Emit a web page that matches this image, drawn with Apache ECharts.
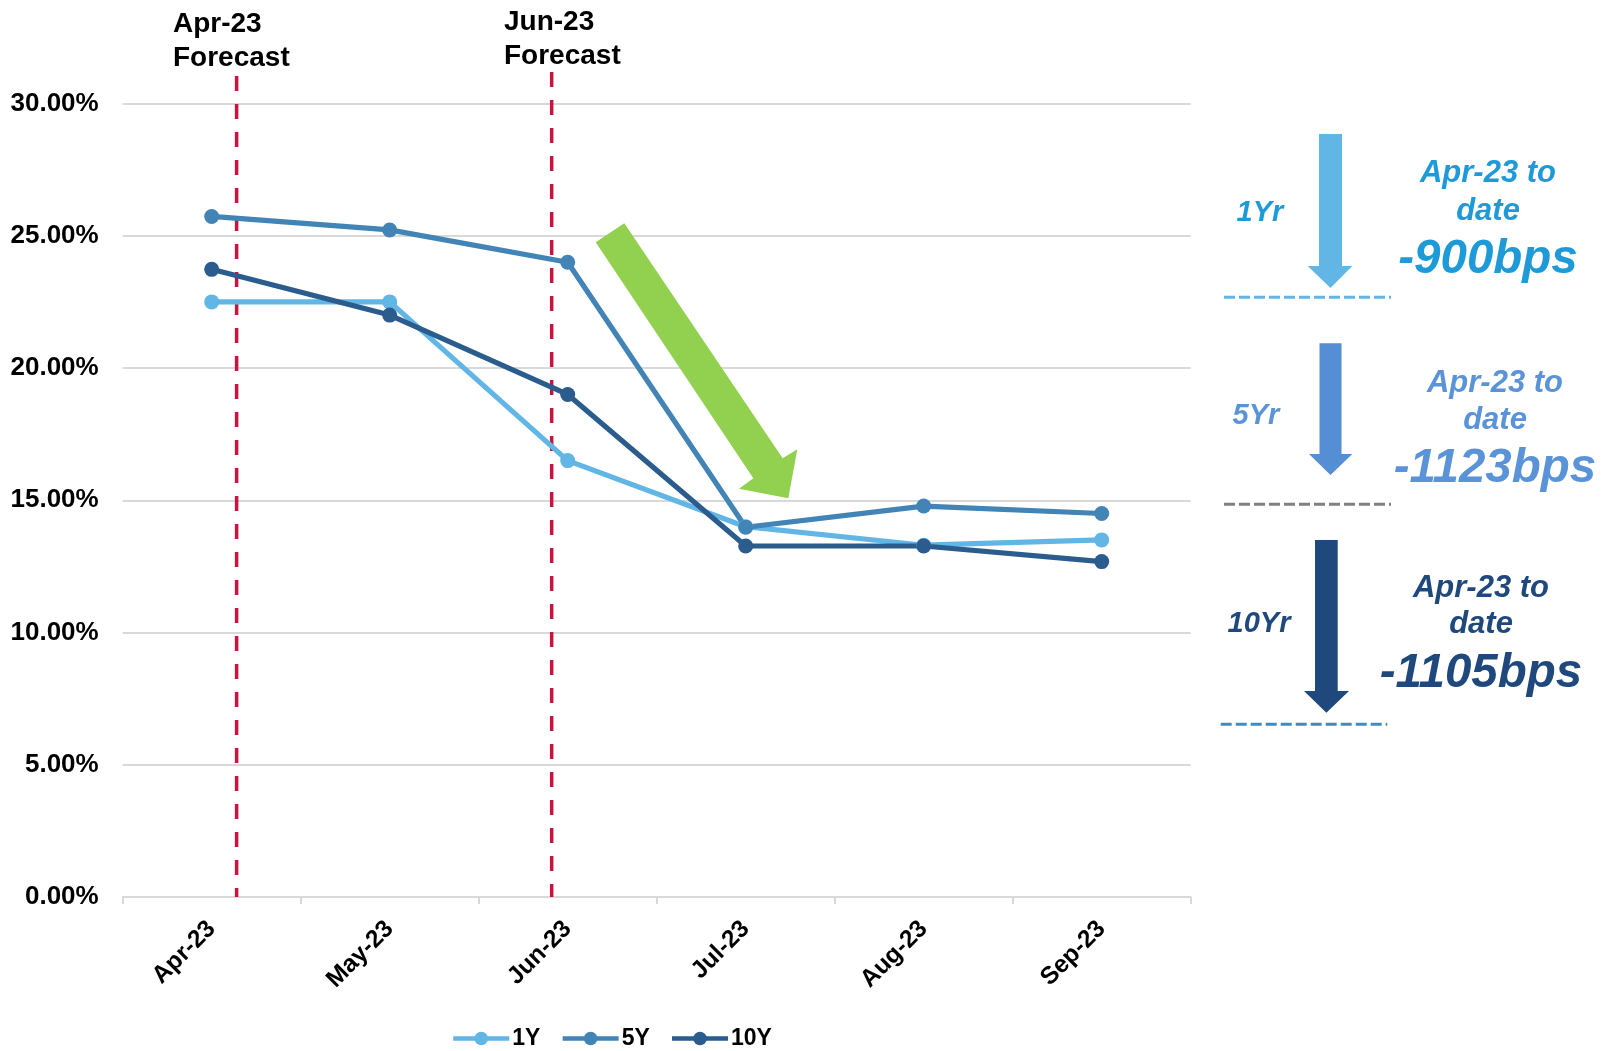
<!DOCTYPE html>
<html>
<head>
<meta charset="utf-8">
<title>Yield curve moves</title>
<script src="https://cdn.jsdelivr.net/npm/echarts@6/dist/echarts.min.js"></script>
<style>
  html, body { margin: 0; padding: 0; background: #ffffff; }
  #chart { width: 1601px; height: 1051px; }
</style>
</head>
<body>
<div id="chart"></div>
<script>
// Monthly yields (%) by tenor
const categories = ['Apr-23', 'May-23', 'Jun-23', 'Jul-23', 'Aug-23', 'Sep-23'];
const yield1Y = [22.5, 22.5, 16.5, 14.0, 13.3, 13.5];
const yield5Y = [25.73, 25.22, 24.0, 13.98, 14.78, 14.5];
const yield10Y = [23.73, 22.0, 19.0, 13.27, 13.27, 12.68];
const seriesNames = ['1Y', '5Y', '10Y'];
const tenorLabels = ['1Yr', '5Yr', '10Yr'];
const forecastLabels = ['Apr-23\nForecast', 'Jun-23\nForecast'];

const FONT = '"Liberation Sans", Arial, Helvetica, sans-serif';
const colors = ['#62b6e6', '#4184b5', '#2a5c8d'];

// change since the first month in basis points
function bpsChange(arr) {
  return Math.round((arr[arr.length - 1] - arr[0]) * 100);
}
const changes = [yield1Y, yield5Y, yield10Y].map(bpsChange);

const chart = echarts.init(document.getElementById('chart'), null, { renderer: 'canvas' });

function lineSeries(name, data, color) {
  return {
    name: name,
    type: 'line',
    data: data,
    symbol: 'circle',
    symbolSize: 15,
    lineStyle: { color: color, width: 5.2 },
    itemStyle: { color: color },
    emphasis: { disabled: true },
    animation: false
  };
}

chart.setOption({
  animation: false,
  grid: { left: 122.7, right: 410.3, top: 103.5, bottom: 154, containLabel: false },
  legend: {
    data: seriesNames,
    left: 446,
    top: 1022,
    itemWidth: 56,
    itemHeight: 17,
    itemGap: 20,
    lineStyle: { width: 4.5 },
    textStyle: { fontFamily: FONT, fontWeight: 'bold', fontSize: 23, color: '#000', padding: [0, 0, 0, -2] }
  },
  xAxis: {
    type: 'category',
    data: categories,
    boundaryGap: true,
    axisLine: { lineStyle: { color: '#d9d9d9', width: 2 } },
    axisTick: { show: true, length: 7, lineStyle: { color: '#d9d9d9', width: 2 } },
    axisLabel: {
      rotate: 45,
      margin: 28,
      fontFamily: FONT,
      fontWeight: 'bold',
      fontSize: 24.5,
      color: '#000'
    }
  },
  yAxis: {
    type: 'value',
    min: 0,
    max: 30,
    interval: 5,
    axisLine: { show: false },
    axisTick: { show: false },
    splitLine: { lineStyle: { color: '#d9d9d9', width: 2 } },
    axisLabel: {
      margin: 24,
      fontFamily: FONT,
      fontWeight: 'bold',
      fontSize: 26,
      color: '#000',
      formatter: v => v.toFixed(2) + '%'
    }
  },
  series: [
    lineSeries(seriesNames[0], yield1Y, colors[0]),
    lineSeries(seriesNames[1], yield5Y, colors[1]),
    lineSeries(seriesNames[2], yield10Y, colors[2])
  ]
});

// ----- annotations -----
const xApr = chart.convertToPixel({ xAxisIndex: 0 }, 0);
const band = chart.convertToPixel({ xAxisIndex: 0 }, 1) - xApr;
const yBase = chart.convertToPixel({ yAxisIndex: 0 }, 0);

// forecast markers sit slightly off the month centres
const forecastX = [xApr + 0.14 * band, xApr + 1.91 * band];
const forecastTop = [76, 72];
const forecastTextY = [7, 5];

const graphics = [];

forecastX.forEach((x, i) => {
  graphics.push({
    type: 'line',
    z: 1,
    shape: { x1: x, y1: forecastTop[i], x2: x, y2: yBase },
    style: { stroke: '#c8143f', lineWidth: 3.5, lineDash: [15, 13] },
    silent: true
  });
  graphics.push({
    type: 'text',
    z: 10,
    x: [173, 504][i],
    y: forecastTextY[i],
    style: {
      text: forecastLabels[i],
      fontFamily: FONT,
      fontWeight: 'bold',
      fontSize: 28,
      lineHeight: 34,
      fill: '#000',
      align: 'left',
      verticalAlign: 'top'
    },
    silent: true
  });
});

// big green trend arrow
graphics.push({
  type: 'polygon',
  z: 5,
  shape: {
    points: [
      [595.7, 242.3], [624.3, 223.3], [782.7, 458.3], [797.3, 449.3],
      [788.3, 498.3], [739.0, 488.7], [753.3, 478.3]
    ]
  },
  style: { fill: '#92d050' },
  silent: true
});

// side panel: per-tenor arrows, dividers and totals
const panel = [
  {
    color: '#62b6e6', textColor: '#1f9ad8', dashColor: '#62b6e6',
    shaft: [1319, 1342, 134, 266], head: [1307.7, 1352.3, 288],
    dash: [1224, 1391, 297.3],
    tenorPos: [1260, 213], cx: 1488, lines: [173, 211, 260]
  },
  {
    color: '#558ed5', textColor: '#5a93d8', dashColor: '#808080',
    shaft: [1319.5, 1341.5, 343.3, 454], head: [1309, 1352.3, 475],
    dash: [1224, 1391, 504.3],
    tenorPos: [1256, 416], cx: 1495, lines: [383, 420, 469]
  },
  {
    color: '#1f497d', textColor: '#1f497d', dashColor: '#3f8cc4',
    shaft: [1315, 1337.7, 540, 691], head: [1304, 1349, 712.7],
    dash: [1220.7, 1387.3, 724.3],
    tenorPos: [1259, 624], cx: 1481, lines: [588, 624, 674]
  }
];

function italic(text, x, y, size, color) {
  return {
    type: 'text',
    z: 10,
    x: x,
    y: y,
    style: {
      text: text,
      fontFamily: FONT,
      fontWeight: 'bold',
      fontStyle: 'italic',
      fontSize: size,
      fill: color,
      align: 'center',
      verticalAlign: 'middle'
    },
    silent: true
  };
}

panel.forEach((p, i) => {
  const [sx1, sx2, sy1, sy2] = p.shaft;
  const [hx1, hx2, tipY] = p.head;
  const mid = (sx1 + sx2) / 2;
  graphics.push({
    type: 'polygon',
    z: 5,
    shape: {
      points: [[sx1, sy1], [sx2, sy1], [sx2, sy2], [hx2, sy2], [mid, tipY], [hx1, sy2], [sx1, sy2]]
    },
    style: { fill: p.color },
    silent: true
  });
  graphics.push({
    type: 'line',
    z: 5,
    shape: { x1: p.dash[0], y1: p.dash[2], x2: p.dash[1], y2: p.dash[2] },
    style: { stroke: p.dashColor, lineWidth: 3, lineDash: [11, 4] },
    silent: true
  });
  graphics.push(italic(tenorLabels[i], p.tenorPos[0], p.tenorPos[1], 29, p.textColor));
  graphics.push(italic('Apr-23 to', p.cx, p.lines[0], 31, p.textColor));
  graphics.push(italic('date', p.cx, p.lines[1], 31, p.textColor));
  graphics.push(italic(changes[i] + 'bps', p.cx, p.lines[2], 47.5, p.textColor));
});

chart.setOption({ graphic: graphics });
</script>
</body>
</html>
